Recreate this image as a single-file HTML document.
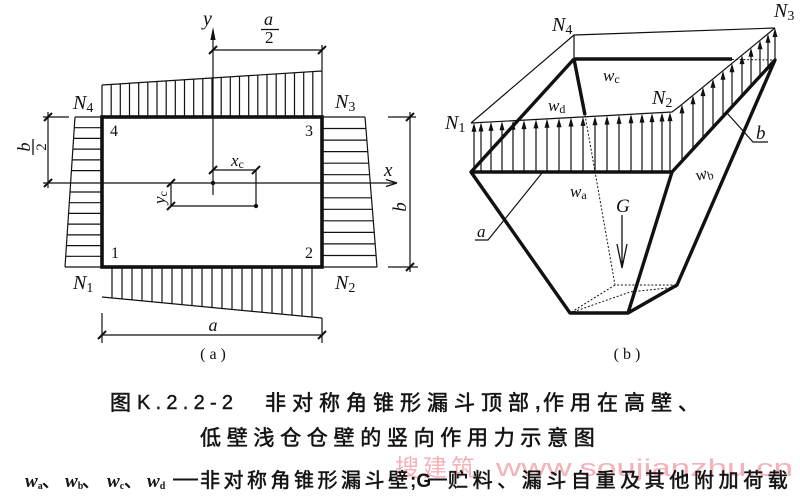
<!DOCTYPE html>
<html>
<head>
<meta charset="utf-8">
<style>
html,body{margin:0;padding:0;background:#fff;}
svg{display:block;}
.it{font-family:"Liberation Serif",serif;font-style:italic;fill:#111;}
.rm{font-family:"Liberation Serif",serif;fill:#111;}
.cjk{font-family:"Liberation Sans","Noto Sans CJK SC",sans-serif;font-weight:normal;fill:#141414;stroke:#141414;stroke-width:0.55;}
</style>
</head>
<body>
<svg width="800" height="502" viewBox="0 0 800 502" xmlns="http://www.w3.org/2000/svg">
<rect width="800" height="502" fill="#fff"/>

<!-- ================= LEFT DIAGRAM (a) ================= -->
<g stroke="#111" fill="none" stroke-width="1.2">
  <path d="M102 85V117M111.2 84.4V117M120.3 83.8V117M129.5 83.2V117M138.7 82.7V117M147.8 82.1V117M157 81.5V117M166.2 80.9V117M175.3 80.3V117M184.5 79.7V117M193.7 79.2V117M202.8 78.6V117M212 78V117M221.2 77.4V117M230.3 76.8V117M239.5 76.2V117M248.7 75.7V117M257.8 75.1V117M267 74.5V117M276.2 73.9V117M285.3 73.3V117M294.5 72.7V117M303.7 72.2V117M312.8 71.6V117M322 71V117M102 85L322 71"/>
  <path d="M112 267V298M122 267V298.9M132 267V299.9M142 267V300.8M152 267V301.8M162 267V302.7M172 267V303.7M182 267V304.6M192 267V305.6M202 267V306.5M212 267V307.5M222 267V308.5M232 267V309.4M242 267V310.4M252 267V311.3M262 267V312.3M272 267V313.2M282 267V314.2M292 267V315.1M302 267V316.1M312 267V317M102 297L322 318"/>
  <path d="M75 117L65 267M75 117H102M74.3 127.7H102M73.6 138.4H102M72.9 149.1H102M72.1 159.9H102M71.4 170.6H102M70 192H102M69.3 202.7H102M68.6 213.4H102M67.9 224.1H102M67.1 234.9H102M66.4 245.6H102M65.7 256.3H102M65 267H102"/>
  <path d="M365 117L377 267M322 117H365M322 128.5H365.9M322 140.1H366.8M322 151.6H367.8M322 163.2H368.7M322 174.7H369.6M322 197.8H371.5M322 209.3H372.4M322 220.8H373.3M322 232.4H374.2M322 243.9H375.1M322 255.5H376.1M322 267H377"/>

  <path d="M213 34V195"/>
  <path d="M43 183H396"/>
  <path d="M397 183L386 179.5M397 183L386 186.5" stroke-width="1.3"/>

  <path d="M213 50H322M322 45V71"/>
  <path d="M213 170H256M256 170V206M171 183V206M171 206H256"/>
  <path d="M48 112V188M43 117H69"/>
  <path d="M410 112V272M388 117H416M388 267H418"/>
  <path d="M102 313V343M322 318V343M102 335H322"/>

  <path stroke-width="2" d="M209 54L217 46M318 54L326 46M209 174L217 166M252 174L260 166M167 187L175 179M167 210L175 202M44 121L52 113M44 187L52 179M406 121L414 113M406 271L414 263M98 339L106 331M318 339L326 331"/>
</g>
<polygon points="213,27 210.4,40 215.6,40" fill="#111"/>
<circle cx="213" cy="183" r="2.2" fill="#111"/>
<circle cx="256" cy="206" r="2.2" fill="#111"/>

<rect x="102" y="117" width="220" height="150" fill="none" stroke="#111" stroke-width="3.6"/>

<text class="it" x="203" y="25" font-size="20">y</text>
<text class="it" x="264" y="25" font-size="18">a</text>
<path d="M261 29.5H279" stroke="#111" stroke-width="1.3"/>
<text class="rm" x="265" y="43" font-size="17">2</text>
<text class="it" x="384" y="176" font-size="19">x</text>
<text class="it" x="231" y="166" font-size="17">x<tspan class="rm" font-style="normal" font-size="12" dy="2">c</tspan></text>
<g transform="translate(165,197) rotate(-90)">
  <text class="it" x="-7" y="0" font-size="17">y<tspan font-style="normal" font-size="12" dy="2">c</tspan></text>
</g>
<g transform="translate(33,147) rotate(-90)">
  <text class="it" x="0" y="-3" font-size="18" text-anchor="middle">b</text>
  <path d="M-8 0H8" stroke="#111" stroke-width="1.3"/>
  <text class="rm" x="0" y="13" font-size="15" text-anchor="middle">2</text>
</g>
<g transform="translate(406,207) rotate(-90)">
  <text class="it" x="0" y="0" font-size="19" text-anchor="middle">b</text>
</g>
<text class="it" x="213" y="331" font-size="18" text-anchor="middle">a</text>

<text class="it" x="73" y="109" font-size="20">N<tspan font-style="normal" font-size="14" dy="3">4</tspan></text>
<text class="it" x="335" y="108" font-size="20">N<tspan font-style="normal" font-size="14" dy="3">3</tspan></text>
<text class="it" x="73" y="289" font-size="20">N<tspan font-style="normal" font-size="14" dy="3">1</tspan></text>
<text class="it" x="335" y="289" font-size="20">N<tspan font-style="normal" font-size="14" dy="3">2</tspan></text>
<text class="rm" x="110" y="136" font-size="16">4</text>
<text class="rm" x="305" y="136" font-size="16">3</text>
<text class="rm" x="111" y="258" font-size="16">1</text>
<text class="rm" x="305" y="258" font-size="16">2</text>
<text class="rm" x="213" y="359" font-size="16" text-anchor="middle">( a )</text>

<!-- ================= RIGHT DIAGRAM (b) ================= -->
<g stroke="#111" fill="none">
  <path stroke-width="1.2" d="M471 123L574 35L775 28M574 35V59M471 123L672 112L680 106L775 28"/>
  <path stroke-width="1.2" d="M542 173L488 240H475M727 113L753 142H768"/>
  <path stroke-width="1" stroke-dasharray="2 1.8" d="M732 59.5L775 60M585 115L615 285L677 285M615 285L570 313M570 313L630 292L677 287"/>
  <path stroke-width="3.4" stroke-linejoin="round" d="M574 59H732M574 59L471 172H672L775 60L677 285L628 313H570L471 172M574 59L585 115M628 313L672 172"/>
  <path stroke-width="1.3" d="M622 215V268M617 244L622 268L627 244"/>
  <path stroke-width="1.2" d="M474 172V131M481 172V131M491 172V130M502 172V130M513 172V129M524 172V129M536 172V128M547 172V127M559 172V127M571 172V126M583 172V125M595 172V125M607 172V124M619 172V123M631 172V123M642 172V122M652 172V121M662 172V121M670 172V120"/>
  <path stroke-width="1.2" d="M682 161V113M693 149V104M703 138V96M713 127V88M723 116V79M732 106V72M742 96V64M751 86V56M760 76V49M768 68V42M775 60V36"/>
</g>
<path fill="#111" d="M474 122.8l-2.5 9h5zM481 122.5l-2.5 9h5zM491 121.9l-2.5 9h5zM502 121.3l-2.5 9h5zM513 120.7l-2.5 9h5zM524 120.1l-2.5 9h5zM536 119.4l-2.5 9h5zM547 118.8l-2.5 9h5zM559 118.2l-2.5 9h5zM571 117.5l-2.5 9h5zM583 116.9l-2.5 9h5zM595 116.2l-2.5 9h5zM607 115.6l-2.5 9h5zM619 114.9l-2.5 9h5zM631 114.2l-2.5 9h5zM642 113.6l-2.5 9h5zM652 113.1l-2.5 9h5zM662 112.5l-2.5 9h5zM670 112.1l-2.5 9h5zM682 104.4l-2.5 9h5zM693 95.3l-2.5 9h5zM703 87.1l-2.5 9h5zM713 78.9l-2.5 9h5zM723 70.7l-2.5 9h5zM732 63.3l-2.5 9h5zM742 55.1l-2.5 9h5zM751 47.7l-2.5 9h5zM760 40.3l-2.5 9h5zM768 33.7l-2.5 9h5zM775 28l-2.5 9h5z"/>

<text class="it" x="552" y="31" font-size="20">N<tspan font-style="normal" font-size="14" dy="3">4</tspan></text>
<text class="it" x="774" y="17" font-size="20">N<tspan font-style="normal" font-size="14" dy="3">3</tspan></text>
<text class="it" x="652" y="104" font-size="20">N<tspan font-style="normal" font-size="14" dy="3">2</tspan></text>
<text class="it" x="445" y="129" font-size="20">N<tspan font-style="normal" font-size="14" dy="3">1</tspan></text>
<text class="it" x="603" y="81" font-size="17">w<tspan font-style="normal" font-size="12" dy="2">c</tspan></text>
<text class="it" x="548" y="111" font-size="17">w<tspan font-style="normal" font-size="12" dy="2">d</tspan></text>
<text class="it" x="570" y="197" font-size="17">w<tspan font-style="normal" font-size="12" dy="2">a</tspan></text>
<g transform="translate(697,181) rotate(-15)">
  <text class="it" x="0" y="0" font-size="17">w<tspan font-style="normal" font-size="12" dy="2">b</tspan></text>
</g>
<text class="it" x="616" y="212" font-size="19">G</text>
<text class="it" x="477" y="237" font-size="17">a</text>
<text class="it" x="756" y="139" font-size="19">b</text>
<text class="rm" x="627" y="359" font-size="16" text-anchor="middle">( b )</text>

<!-- ================= CAPTION ================= -->
<text x="395" y="476" font-family="'Noto Sans CJK SC',sans-serif" font-size="24" letter-spacing="4" fill="#f4b2ba">搜建筑</text>
<text x="496" y="476" font-family="'Liberation Sans',sans-serif" font-size="24" textLength="297" lengthAdjust="spacingAndGlyphs" fill="#f4b2ba">www.soujianzhu.cn</text>

<text class="cjk" x="110" y="410" font-size="21">图</text>
<text x="137" y="409" font-family="'Liberation Sans',sans-serif" font-size="20" fill="#141414" stroke="#141414" stroke-width="0.4" textLength="96" lengthAdjust="spacing">K.2.2-2</text>
<text class="cjk" x="265" y="410" font-size="21" letter-spacing="6">非对称角锥形漏斗顶部</text>
<text x="535" y="409" font-family="'Liberation Sans',sans-serif" font-size="20" font-weight="bold" fill="#141414">,</text>
<text class="cjk" x="543" y="410" font-size="21" letter-spacing="6">作用在高壁、</text>

<text class="cjk" x="200" y="445" font-size="21" letter-spacing="5.7">低壁浅仓仓壁的竖向作用力示意图</text>

<g font-family="'Liberation Serif',serif" font-style="italic" font-weight="bold" fill="#141414">
  <text x="25" y="487" font-size="19">w<tspan font-style="normal" font-size="10" dy="2">a</tspan></text>
  <text x="65" y="487" font-size="19">w<tspan font-style="normal" font-size="10" dy="2">b</tspan></text>
  <text x="107" y="487" font-size="19">w<tspan font-style="normal" font-size="10" dy="2">c</tspan></text>
  <text x="147" y="487" font-size="19">w<tspan font-style="normal" font-size="10" dy="2">d</tspan></text>
</g>
<text class="cjk" x="42" y="487" font-size="18">、</text>
<text class="cjk" x="82" y="487" font-size="18">、</text>
<text class="cjk" x="124" y="487" font-size="18">、</text>
<path d="M173 479.5H198" stroke="#141414" stroke-width="2"/>
<text class="cjk" x="200" y="487" font-size="20" letter-spacing="3.5">非对称角锥形漏斗壁</text>
<text x="410" y="487" font-family="'Liberation Sans',sans-serif" font-size="19" font-weight="bold" fill="#141414">;G</text>
<path d="M428 479.5H447" stroke="#141414" stroke-width="2"/>
<text class="cjk" x="448" y="487" font-size="20" letter-spacing="4.6">贮料、漏斗自重及其他附加荷载</text>
</svg>
</body>
</html>
